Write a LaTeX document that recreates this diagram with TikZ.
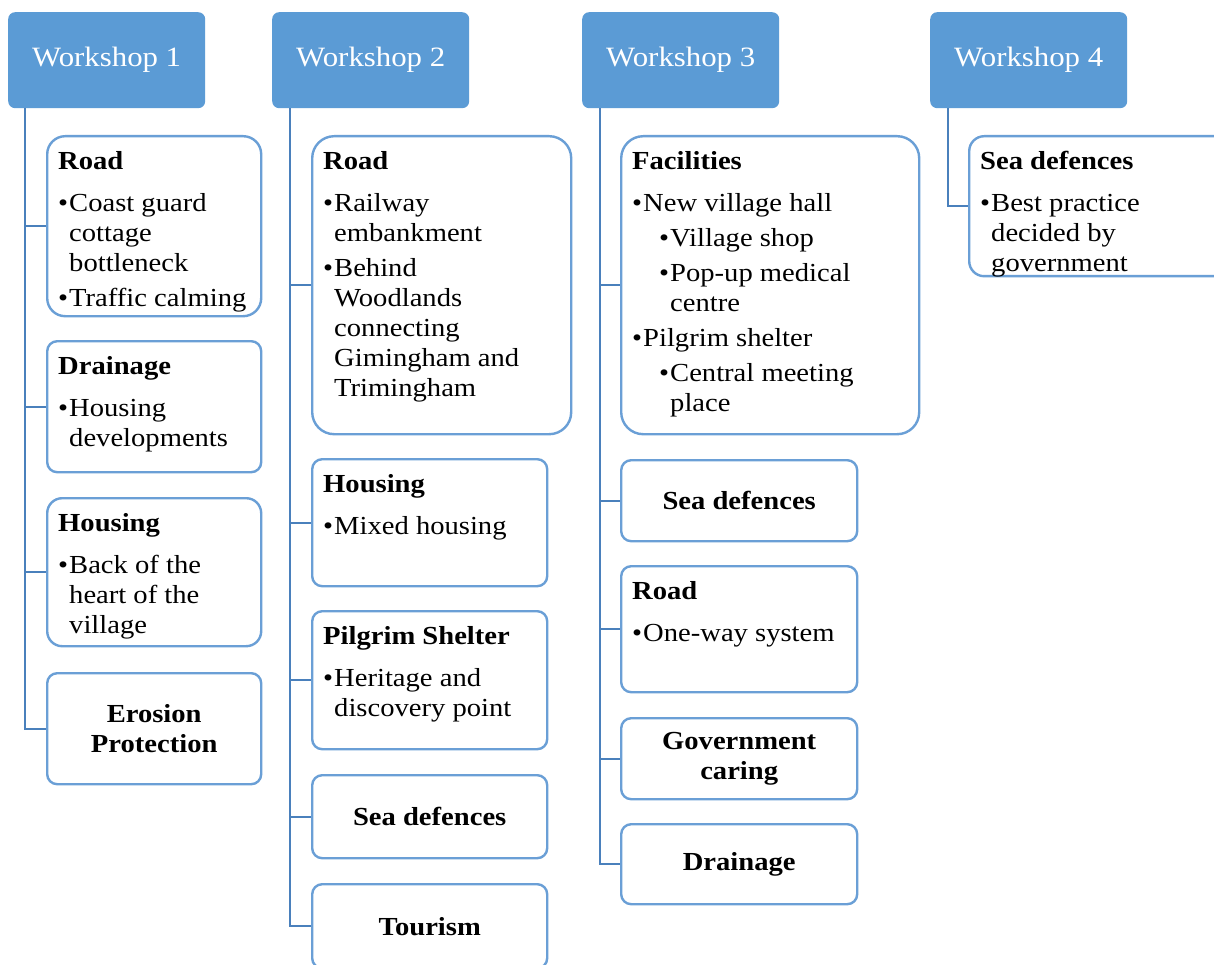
\documentclass[tikz,border=0pt]{standalone}
\usepackage{fontspec}
\setmainfont{Liberation Serif}[FakeStretch=1.1]
\usepackage{xcolor}
\usepackage{tikz}
\usetikzlibrary{positioning, calc}
\definecolor{headblue}{HTML}{5B9BD5}
\definecolor{edgeblue}{HTML}{6A9FD6}
\definecolor{lineblue}{HTML}{4A80BC}
\newcommand{\headcolor}{headblue}
\newcommand{\headfont}{\fontsize{28}{32}\selectfont}
\newcommand{\bodyfont}{\fontsize{26}{30}\selectfont}
\newcommand{\wsitem}[1]{\par\vspace{5pt}\hangindent=11pt\hangafter=1\noindent\makebox[11pt][l]{\textbullet}#1}
\newcommand{\wssub}[1]{\par\vspace{5pt}\hangindent=38pt\hangafter=1\noindent\hspace*{27pt}\makebox[11pt][l]{\textbullet}#1}
\newcommand{\topic}[4]{\parbox[c][#2][t]{#1}{\hfuzz=30pt\vfuzz=30pt\raggedright\rule{0pt}{23pt}\textbf{#3}\par\vspace{7pt}#4}}

\begin{document}
\begin{tikzpicture}[x=1pt, y=-1pt, font=\bodyfont]
	\tikzstyle{wshead}=[rectangle, rounded corners=7pt, fill=\headcolor, text=white, minimum width=197pt, minimum height=96pt, anchor=north west, font=\headfont]
	\tikzstyle{topicbox}=[rectangle, rounded corners=10pt, draw=edgeblue, line width=2.4pt, fill=white, anchor=north west, inner xsep=11pt, inner ysep=10pt]
	\tikzstyle{plainbox}=[topicbox, align=center, font=\bodyfont\bfseries]
	\tikzstyle{branch}=[draw=lineblue, line width=2pt]
	\clip (0,0) rectangle (1214,965);
	\fill[white] (0,0) rectangle (1214,965);

	\node (w1) at (8,12) [wshead]{Workshop 1};
	\node (w2) at (272,12) [wshead]{Workshop 2};
	\node (w3) at (582,12) [wshead]{Workshop 3};
	\node (w4) at (930,12) [wshead]{Workshop 4};

	\node (w1road) at (46,135) [topicbox, rounded corners=18pt]{\topic{192pt}{160pt}{Road}{\wsitem{Coast guard\newline cottage\newline bottleneck}\wsitem{Traffic~calming}}};
	\node (w1drain) at (46,340) [topicbox]{\topic{192pt}{111pt}{Drainage}{\wsitem{Housing\newline developments}}};
	\node (w1house) at (46,497) [topicbox, rounded corners=15pt]{\topic{192pt}{128pt}{Housing}{\wsitem{Back of the\newline heart of the\newline village}}};
	\node (w1eros) at (46,672) [plainbox, minimum width=214pt, minimum height=111pt]{Erosion\\Protection};

	\node (w2road) at (311,135) [topicbox, rounded corners=22pt]{\topic{237pt}{278pt}{Road}{\wsitem{Railway\newline embankment}\wsitem{Behind\newline Woodlands\newline connecting\newline Gimingham~and\newline Trimingham}}};
	\node (w2house) at (311,458) [topicbox]{\topic{213pt}{107pt}{Housing}{\wsitem{Mixed~housing}}};
	\node (w2pilg) at (311,610) [topicbox]{\topic{213pt}{118pt}{Pilgrim Shelter}{\wsitem{Heritage and\newline discovery~point}}};
	\node (w2sea) at (311,774) [plainbox, minimum width=235pt, minimum height=83pt]{Sea defences};
	\node (w2tour) at (311,883) [plainbox, minimum width=235pt, minimum height=84pt]{Tourism};

	\node (w3fac) at (620,135) [topicbox, rounded corners=22pt]{\topic{276pt}{278pt}{Facilities}{\wsitem{New village hall}\wssub{Village shop}\wssub{Pop-up~medical\newline centre}\wsitem{Pilgrim shelter}\wssub{Central~meeting\newline place}}};
	\node (w3sea) at (620,459) [plainbox, minimum width=236pt, minimum height=81pt]{Sea defences};
	\node (w3road) at (620,565) [topicbox]{\topic{214pt}{106pt}{Road}{\wsitem{One-way~system}}};
	\node (w3gov) at (620,717) [plainbox, minimum width=236pt, minimum height=81pt]{Government\\caring};
	\node (w3drain) at (620,823) [plainbox, minimum width=236pt, minimum height=80pt]{Drainage};

	\node (w4sea) at (968,135) [topicbox, rounded corners=15pt]{\topic{280pt}{120pt}{Sea defences}{\wsitem{Best practice\newline decided by\newline government}}};

	\draw[branch] ([xshift=17pt]w1.south west) |- (w1road.west);
	\draw[branch] ([xshift=17pt]w1.south west) |- (w1drain.west);
	\draw[branch] ([xshift=17pt]w1.south west) |- (w1house.west);
	\draw[branch] ([xshift=17pt]w1.south west) |- (w1eros.west);

	\draw[branch] ([xshift=18pt]w2.south west) |- (w2road.west);
	\draw[branch] ([xshift=18pt]w2.south west) |- (w2house.west);
	\draw[branch] ([xshift=18pt]w2.south west) |- (w2pilg.west);
	\draw[branch] ([xshift=18pt]w2.south west) |- (w2sea.west);
	\draw[branch] ([xshift=18pt]w2.south west) |- (w2tour.west);

	\draw[branch] ([xshift=18pt]w3.south west) |- (w3fac.west);
	\draw[branch] ([xshift=18pt]w3.south west) |- (w3sea.west);
	\draw[branch] ([xshift=18pt]w3.south west) |- (w3road.west);
	\draw[branch] ([xshift=18pt]w3.south west) |- (w3gov.west);
	\draw[branch] ([xshift=18pt]w3.south west) |- (w3drain.west);

	\draw[branch] ([xshift=18pt]w4.south west) |- (w4sea.west);
\end{tikzpicture}
\end{document}
